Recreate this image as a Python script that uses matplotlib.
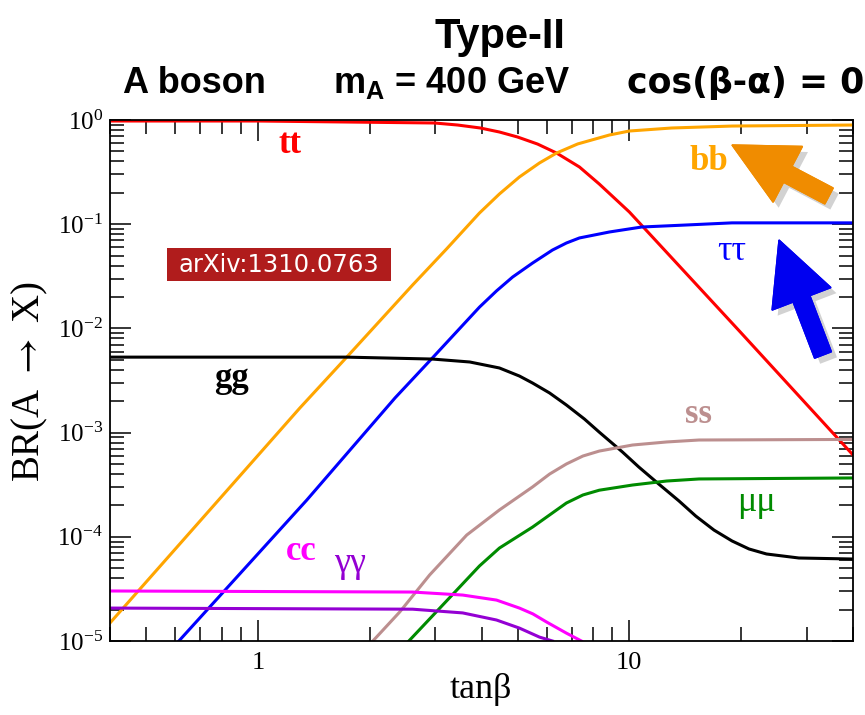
import numpy as np
import matplotlib
matplotlib.use("Agg")
import matplotlib.pyplot as plt
import matplotlib.patheffects as pe
from matplotlib.patches import FancyArrow, Rectangle
from matplotlib.ticker import (LogLocator, FixedLocator, FixedFormatter,
                               NullFormatter, LogFormatterMathtext)

plt.rcParams['font.family'] = ['Liberation Serif', 'DejaVu Serif']
plt.rcParams['mathtext.fontset'] = 'custom'
plt.rcParams['mathtext.rm'] = 'Liberation Serif'
plt.rcParams['mathtext.bf'] = 'Liberation Sans:bold'

#[data] BR(A -> X) vs tanb, type-II, mA = 400 GeV
tb_tt = [0.4, 1.0, 2.99, 3.45, 3.97, 4.47, 5.00, 5.66, 6.37, 7.34, 8.30, 10.0, 19.8, 40.0]
br_tt = [0.978, 0.978, 0.936, 0.895, 0.838, 0.767, 0.687, 0.588, 0.482, 0.354, 0.243,
         0.131, 9.4e-3, 6.1e-4]

tb_bb = [0.4, 1.297, 1.735, 2.61, 3.22, 3.95, 4.47, 5.06, 5.73, 6.37, 7.26, 8.84, 10.0,
         13.0, 18.9, 40.0]
br_bb = [1.49e-5, 1.72e-3, 5.3e-3, 0.0261, 0.0578, 0.128, 0.195, 0.284, 0.387, 0.482,
         0.589, 0.718, 0.784, 0.838, 0.875, 0.895]

tb_tautau = [0.613, 1.354, 2.34, 2.95, 3.95, 4.39, 4.85, 5.49, 6.21, 6.77, 7.34, 8.84,
             10.8, 14.0, 18.9, 40.0]
br_tautau = [1e-5, 2.25e-4, 2.15e-3, 5.2e-3, 0.016, 0.0229, 0.0311, 0.0424, 0.0565, 0.066,
             0.0738, 0.0842, 0.094, 0.098, 0.103, 0.103]

tb_gg = [0.4, 1.735, 2.95, 3.72, 4.47, 5.06, 5.49, 6.10, 6.77, 7.57, 8.30, 9.58, 10.6,
         12.0, 13.6, 15.1, 16.9, 18.9, 21.0, 23.4, 28.6, 40.0]
br_gg = [5.3e-3, 5.3e-3, 5.08e-3, 4.76e-3, 4.17e-3, 3.49e-3, 2.99e-3, 2.40e-3, 1.84e-3,
         1.35e-3, 1.01e-3, 6.52e-4, 4.68e-4, 3.21e-4, 2.21e-4, 1.58e-4, 1.16e-4, 9.12e-5,
         7.64e-5, 6.84e-5, 6.26e-5, 6.12e-5]

tb_ss = [2.04, 2.41, 2.90, 3.65, 4.47, 5.49, 6.10, 6.77, 7.50, 8.30, 10.2, 12.6, 15.4, 40.0]
br_ss = [1e-5, 1.90e-5, 4.30e-5, 1.04e-4, 1.81e-4, 3.01e-4, 4.0e-4, 5.0e-4, 5.96e-4,
         6.65e-4, 7.6e-4, 8.13e-4, 8.49e-4, 8.6e-4]

tb_mumu = [2.55, 3.22, 3.95, 4.47, 5.49, 6.10, 6.77, 7.50, 8.30, 10.2, 12.6, 15.4, 40.0]
br_mumu = [1e-5, 2.42e-5, 5.25e-5, 7.8e-5, 1.24e-4, 1.62e-4, 2.11e-4, 2.52e-4, 2.80e-4,
           3.14e-4, 3.43e-4, 3.59e-4, 3.67e-4]

tb_cc = [0.4, 2.61, 3.56, 4.39, 5.06, 5.50, 5.99, 6.77, 7.43]
br_cc = [3.02e-5, 2.95e-5, 2.76e-5, 2.47e-5, 2.07e-5, 1.82e-5, 1.52e-5, 1.19e-5, 1e-5]

tb_aa = [0.4, 2.61, 3.56, 4.39, 5.06, 5.73, 6.21]
br_aa = [2.07e-5, 2.02e-5, 1.86e-5, 1.59e-5, 1.33e-5, 1.09e-5, 1e-5]

channels = [
    (tb_tt, br_tt, '#FF0000'),
    (tb_bb, br_bb, '#FFA500'),
    (tb_tautau, br_tautau, '#0000FF'),
    (tb_gg, br_gg, '#000000'),
    (tb_ss, br_ss, '#BC8F8F'),
    (tb_mumu, br_mumu, '#008B00'),
    (tb_cc, br_cc, '#FF00FF'),
    (tb_aa, br_aa, '#9400D3'),
]

W, H = 865, 715


def fx(px):
    return px / W


def fy(py):
    return 1 - py / H


fig = plt.figure(figsize=(W / 100, H / 100), dpi=100)
ax = fig.add_axes([fx(110), fy(641), 743 / W, 521 / H])

for tb, br, col in channels:
    ax.plot(tb, br, color=col, lw=2.2, solid_joinstyle='round')

ax.set_xscale('log')
ax.set_yscale('log')
ax.set_xlim(0.4, 40)
ax.set_ylim(1e-5, 1)

ax.xaxis.set_major_locator(FixedLocator([1, 10]))
ax.xaxis.set_major_formatter(FixedFormatter(['1', '10']))
ax.xaxis.set_minor_locator(LogLocator(base=10, subs=np.arange(2, 10)))
ax.xaxis.set_minor_formatter(NullFormatter())
ax.yaxis.set_major_locator(LogLocator(base=10, numticks=10))
ax.yaxis.set_major_formatter(LogFormatterMathtext())
ax.yaxis.set_minor_locator(LogLocator(base=10, subs=np.arange(2, 10), numticks=10))
ax.yaxis.set_minor_formatter(NullFormatter())

ax.tick_params(which='both', direction='in', top=True, right=True, width=1.1)
ax.tick_params(which='major', length=15)
ax.tick_params(which='minor', length=10)
ax.tick_params(axis='x', labelsize=19, pad=8)
ax.tick_params(axis='y', labelsize=18, pad=5)
for s in ax.spines.values():
    s.set_linewidth(1.3)

# axis titles
fig.text(fx(30), fy(382), r'BR(A $\rightarrow$ X)', rotation=90, ha='center', va='center',
         fontsize=28, math_fontfamily='stix')
fig.text(fx(481), fy(690), 'tan\u03b2', ha='center', va='center', fontsize=26)

# header
hdr = dict(family=['Liberation Sans', 'DejaVu Sans'], weight='bold', va='baseline')
fig.text(fx(500), fy(48), 'Type-II', ha='center', fontsize=30, **hdr)
fig.text(fx(123), fy(93), 'A boson', ha='left', fontsize=26, **hdr)
fig.text(fx(333), fy(93), r'm$_\mathbf{A}$ = 400 GeV', ha='left', fontsize=26, **hdr)
fig.text(fx(627), fy(93), 'cos(\u03b2-\u03b1) = 0', ha='left', fontsize=25,
         family='DejaVu Sans', weight='bold', va='baseline')

# channel labels
lab_bold = dict(family=['Liberation Serif', 'DejaVu Serif'], weight='bold', fontsize=25,
                ha='center', va='baseline')
lab_greek = dict(family=['Liberation Serif', 'DejaVu Serif'], fontsize=26,
                 ha='center', va='baseline')
fig.text(fx(290), fy(153), 'tt', color='#FF0000', **lab_bold)
fig.text(fx(709), fy(170), 'bb', color='#FFA500', **lab_bold)
fig.text(fx(232), fy(387), 'gg', color='#000000', **lab_bold)
fig.text(fx(698), fy(423), 'ss', color='#BC8F8F', **lab_bold)
fig.text(fx(301), fy(560), 'cc', color='#FF00FF', **lab_bold)
fig.text(fx(732), fy(260), '\u03c4\u03c4', color='#0000FF', **lab_greek)
fig.text(fx(757), fy(511), '\u03bc\u03bc', color='#008B00', **lab_greek)
fig.text(fx(350), fy(572), '\u03b3\u03b3', color='#9400D3', **lab_greek)

# arXiv tag
fig.add_artist(Rectangle((fx(167), fy(281)), 224 / W, 33 / H, transform=fig.transFigure,
                         facecolor='#B01C1C', edgecolor='none', zorder=4))
fig.text(fx(279), fy(265), 'arXiv:1310.0763', color='white', ha='center', va='center',
         family='DejaVu Sans', fontsize=17.5, zorder=5)

# big arrows pointing at bb and tautau
shadow = [pe.withSimplePatchShadow(offset=(4, -4), shadow_rgbFace='0.5', alpha=0.35), pe.Normal()]
arr1 = FancyArrow(8.29, 5.19, -0.97, 0.51, width=0.18, head_width=0.63, head_length=0.63,
                  length_includes_head=True, transform=fig.dpi_scale_trans,
                  color='#F08C00', zorder=6, path_effects=shadow)
arr2 = FancyArrow(8.23, 3.60, -0.44, 1.15, width=0.18, head_width=0.63, head_length=0.63,
                  length_includes_head=True, transform=fig.dpi_scale_trans,
                  color='#0000F0', zorder=6, path_effects=shadow)
fig.add_artist(arr1)
fig.add_artist(arr2)

fig.savefig('out.png', dpi=100)
